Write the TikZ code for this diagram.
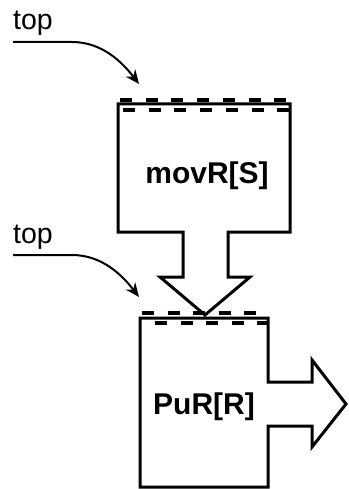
\documentclass[tikz,border=0pt]{standalone}
\usepackage{fontspec}
\setmainfont{Liberation Sans}
\usetikzlibrary{arrows.meta}
\begin{document}
\begin{tikzpicture}[x=1pt,y=-1pt,
  box/.style={line width=3pt, line join=miter},
  dashrow/.style={line width=4.5pt, dash pattern=on 12pt off 13.7pt},
  dashrowb/.style={line width=4.5pt, dash pattern=on 12pt off 13.5pt},
  lbl/.style={font=\fontsize{30}{30}\selectfont\bfseries, anchor=base, inner sep=0pt},
  toplbl/.style={font=\fontsize{28.5}{28.5}\selectfont, anchor=base west, inner sep=0pt},
  pointer/.style={line width=2pt, -{Stealth[length=14pt,width=12pt]}}]
\useasboundingbox (0,0) rectangle (348,489);
% upper box with downward arrow
\draw[box] (118,232) -- (118,104) -- (290,104) -- (290,232) -- (228,232) -- (228,277)
  -- (250,277) -- (205,315) -- (160,277) -- (183,277) -- (183,232) -- cycle;
\draw[dashrow] (120,100) -- (287,100);
\draw[dashrow] (123,110) -- (290,110);
\node[lbl] (movr) at (207,183) {movR[S]};
% lower box with right arrow
\draw[box] (140,487) -- (140,318) -- (268,318) -- (268,382) -- (312,382) -- (312,360)
  -- (346,404) -- (312,447) -- (312,426) -- (268,426) -- (268,487) -- cycle;
\draw[dashrowb] (142,313) -- (256,313);
\draw[dashrowb] (155,323) -- (268,323);
\node[lbl] (pur) at (204,414) {PuR[R]};
% top labels with pointers
\node[toplbl] (top1) at (13,30) {top};
\coordinate (s1) at (13,42);
\coordinate (k1) at (72,42);
\coordinate (t1) at (139,84);
\draw[pointer] (s1) -- (k1) .. controls (102,42) and (122,62) .. (t1);
\node[toplbl] (top2) at (13,243) {top};
\coordinate (s2) at (13,255);
\coordinate (k2) at (72,255);
\coordinate (t2) at (139,297);
\draw[pointer] (s2) -- (k2) .. controls (102,255) and (122,275) .. (t2);
\end{tikzpicture}
\end{document}
